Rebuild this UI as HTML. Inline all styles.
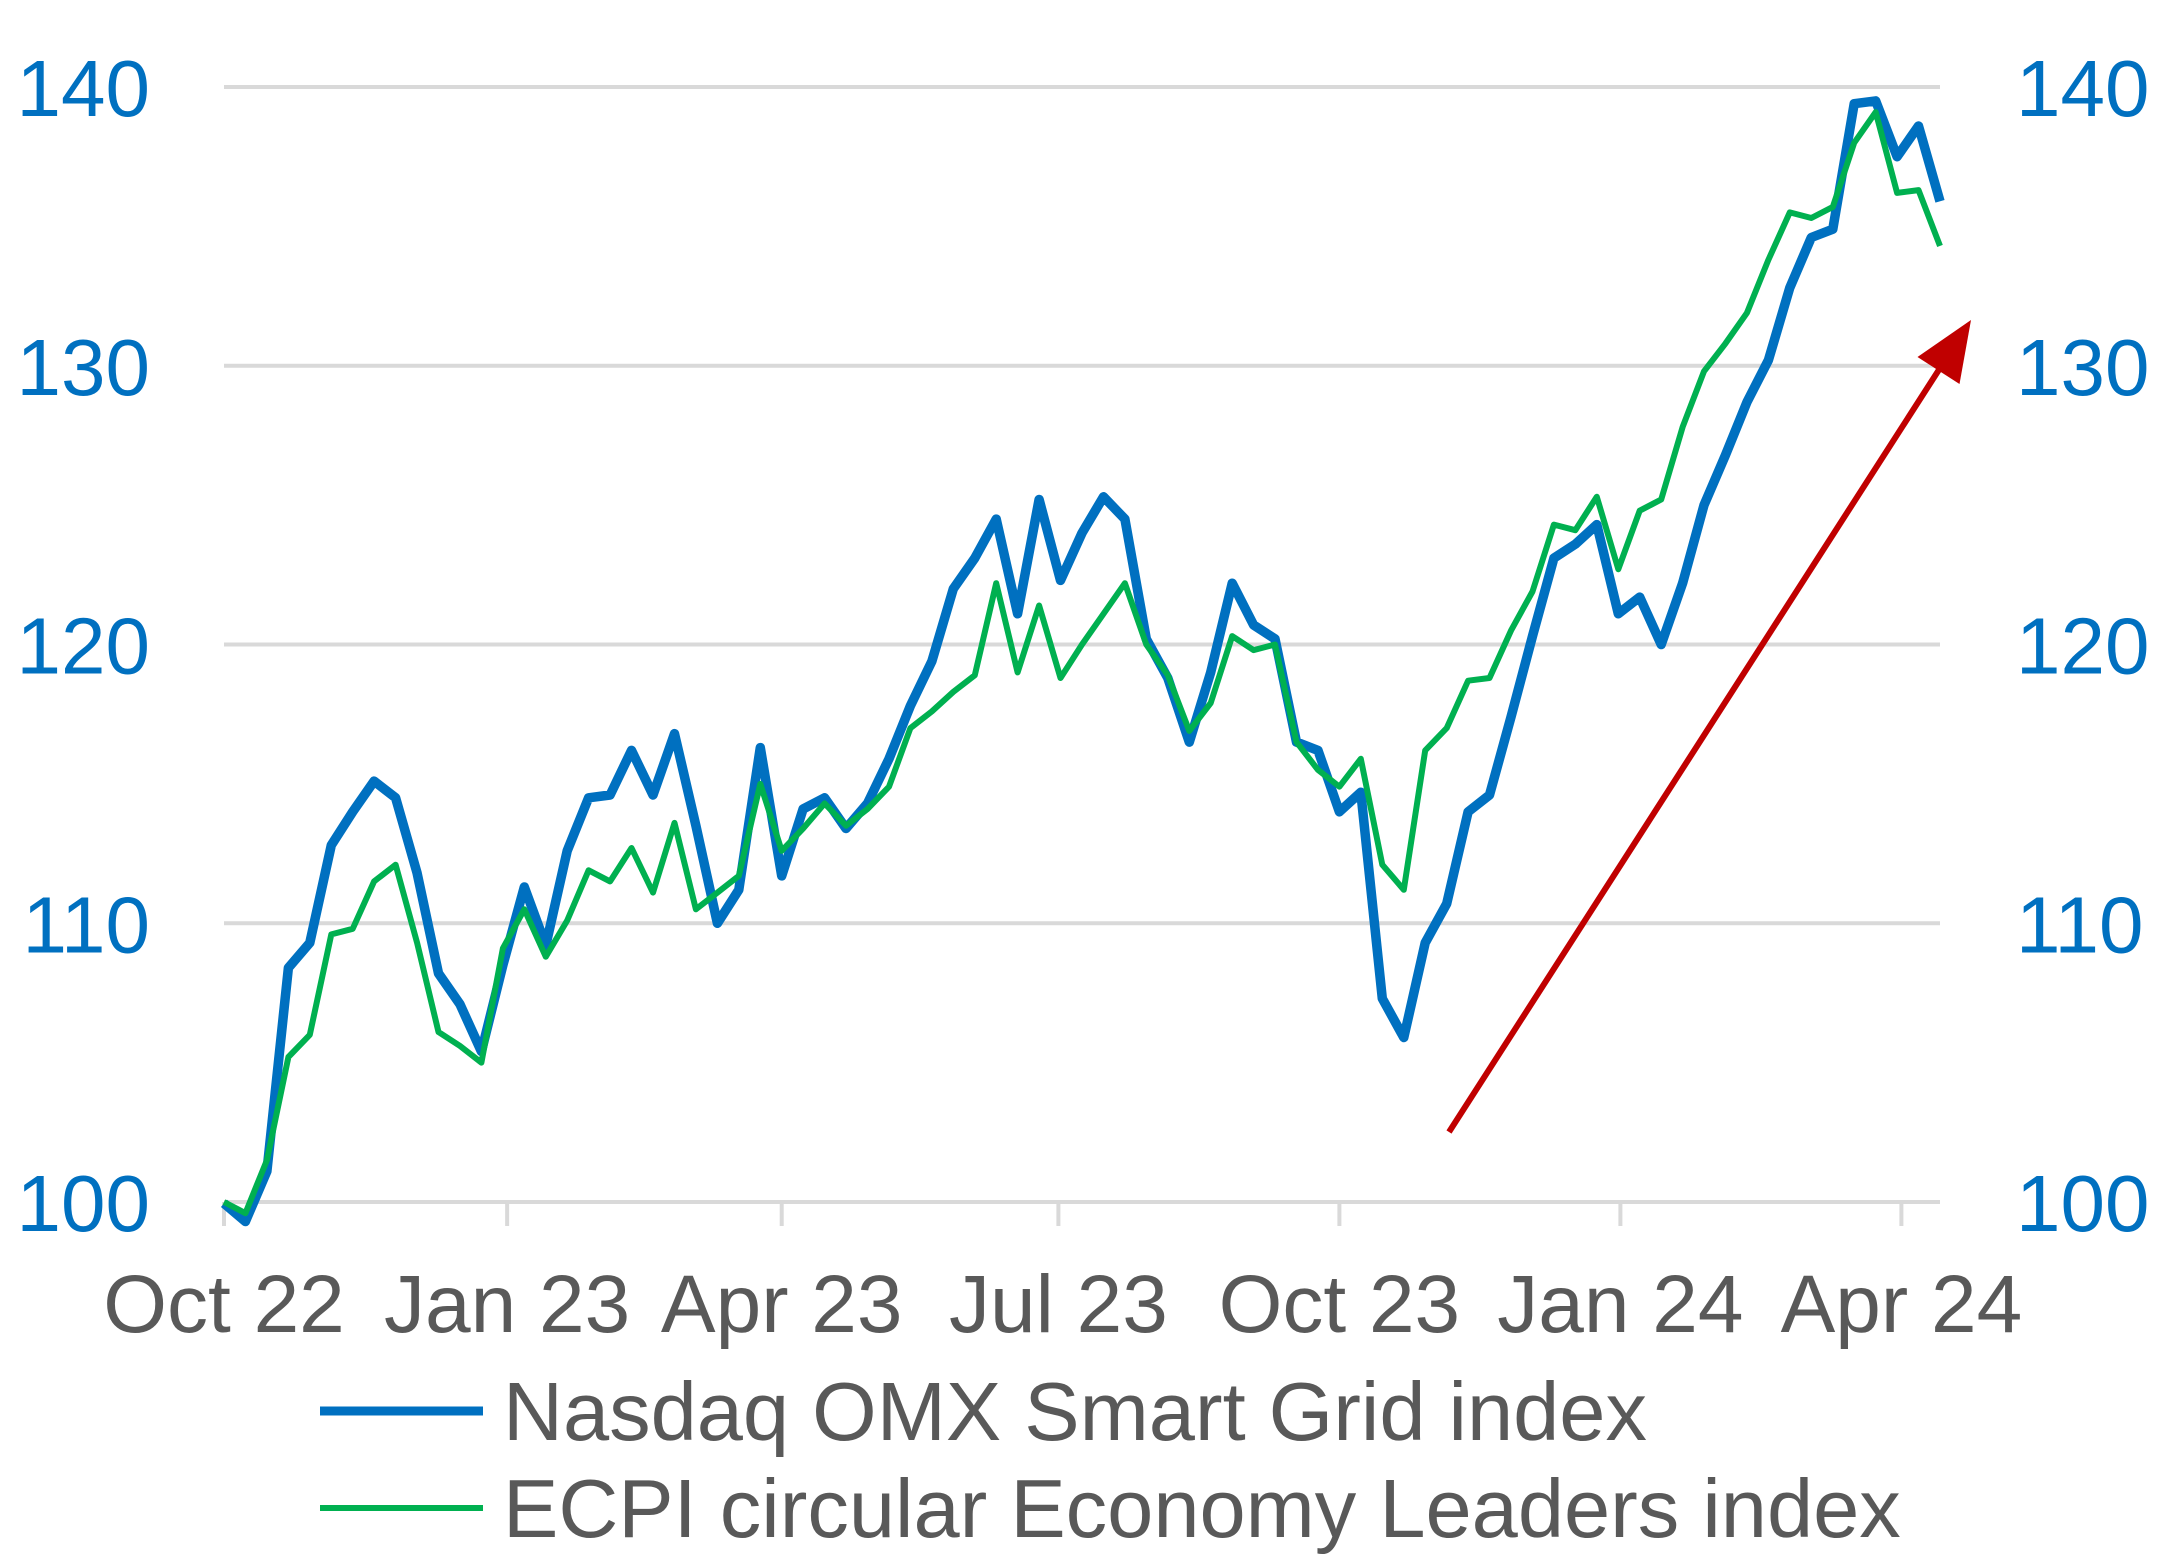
<!DOCTYPE html>
<html><head><meta charset="utf-8">
<style>
html,body{margin:0;padding:0;background:#fff;}
svg{display:block;font-family:"Liberation Sans",Arial,sans-serif;}
</style></head>
<body>
<svg id="chart" width="2164" height="1558" viewBox="0 0 2164 1558" xmlns="http://www.w3.org/2000/svg">
<g id="grid"></g>
<g id="yl"></g>
<g id="yr"></g>
<g id="xa"></g>
<g id="series"></g>
<g>
<line x1="1449" y1="1132" x2="1942" y2="365" stroke="#C00000" stroke-width="6"/>
<polygon points="1971,320 1959.5,384 1917.5,357" fill="#C00000"/>
</g>
<g>
<line x1="320" y1="1411" x2="483" y2="1411" stroke="#0070C0" stroke-width="9"/>
<text x="503" y="1440" font-size="83" fill="#595959">Nasdaq OMX Smart Grid index</text>
<line x1="320" y1="1508" x2="483" y2="1508" stroke="#00B050" stroke-width="6"/>
<text x="503" y="1537" font-size="83" fill="#595959">ECPI circular Economy Leaders index</text>
</g>
</svg>
<script>
const yTicks=[100,110,120,130,140];
const xTickLabels=["Oct 22","Jan 23","Apr 23","Jul 23","Oct 23","Jan 24","Apr 24"];
const xTickIdx=[0,13.2,26,38.9,52,65.1,78.2];
const nasdaq=[99.95,99.3,101.1,108.4,109.3,112.8,114.0,115.1,114.5,111.8,108.2,107.1,105.4,108.5,111.3,109.2,112.6,114.5,114.6,116.2,114.6,116.8,113.5,110.0,111.2,116.3,111.7,114.1,114.5,113.4,114.3,115.9,117.8,119.4,122.0,123.1,124.5,121.1,125.2,122.3,124.0,125.3,124.5,120.2,118.8,116.5,119.0,122.2,120.7,120.2,116.5,116.2,114.0,114.7,107.3,105.9,109.3,110.7,114.0,114.6,117.4,120.3,123.1,123.6,124.3,121.1,121.7,120.0,122.2,125.0,126.8,128.7,130.2,132.8,134.6,134.9,139.4,139.5,137.5,138.6,135.9];
const ecpi=[100.0,99.6,101.5,105.2,106.0,109.6,109.8,111.5,112.1,109.3,106.1,105.6,105.0,109.1,110.5,108.8,110.1,111.9,111.5,112.7,111.1,113.6,110.5,111.1,111.7,115.0,112.6,113.4,114.3,113.5,114.1,114.9,117.0,117.6,118.3,118.9,122.2,119.0,121.4,118.8,120.0,121.1,122.2,120.0,118.9,116.9,117.9,120.3,119.8,120.0,116.5,115.5,114.9,115.9,112.1,111.2,116.2,117.0,118.7,118.8,120.5,121.9,124.3,124.1,125.3,122.7,124.8,125.2,127.8,129.8,130.8,131.9,133.8,135.5,135.3,135.7,138.0,139.1,136.2,136.3,134.3];
const NS="http://www.w3.org/2000/svg";
const X0=224,X1=1940,Y0=1202,Y1=87;
const n=nasdaq.length;
function xs(i){return X0+(X1-X0)*i/(n-1);}
function ys(v){return Y0-(v-100)/40*(Y0-Y1);}
function mk(tag,attrs,parent){const e=document.createElementNS(NS,tag);for(const k in attrs)e.setAttribute(k,attrs[k]);parent.appendChild(e);return e;}
const grid=document.getElementById('grid'),yl=document.getElementById('yl'),yr=document.getElementById('yr'),xa=document.getElementById('xa'),ser=document.getElementById('series');
yTicks.forEach(v=>{
  const l=mk('line',{x1:X0,x2:X1,y1:ys(v),y2:ys(v),stroke:'#D9D9D9','stroke-width':4},grid);
  
  
  const t1=mk('text',{x:150,y:ys(v)+29,'text-anchor':'end','font-size':80,fill:'#0070C0'},yl);
  t1.textContent=v;
  
  
  const t2=mk('text',{x:2016,y:ys(v)+29,'font-size':80,fill:'#0070C0'},yr);
  t2.textContent=v;
  
  
});
xTickLabels.forEach((s,k)=>{
  const x=xs(xTickIdx[k]);
  const tk=mk('line',{x1:x,x2:x,y1:Y0,y2:Y0+24,stroke:'#D9D9D9','stroke-width':4},xa);
  
  
  const t=mk('text',{x:x,y:1332,'text-anchor':'middle','font-size':82,fill:'#595959'},xa);
  t.textContent=s;
  
  
});
function line(arr,color,w,name){
  const d=arr.map((v,i)=>(i?'L':'M')+xs(i).toFixed(1)+','+ys(v).toFixed(1)).join(' ');
  const p=mk('path',{d:d,fill:'none',stroke:color,'stroke-width':w,'stroke-linejoin':'round'},ser);
  
  
}
line(nasdaq,'#0070C0',9.5,'nasdaq-line');
line(ecpi,'#00B050',6,'ecpi-line');
</script>
</body></html>
